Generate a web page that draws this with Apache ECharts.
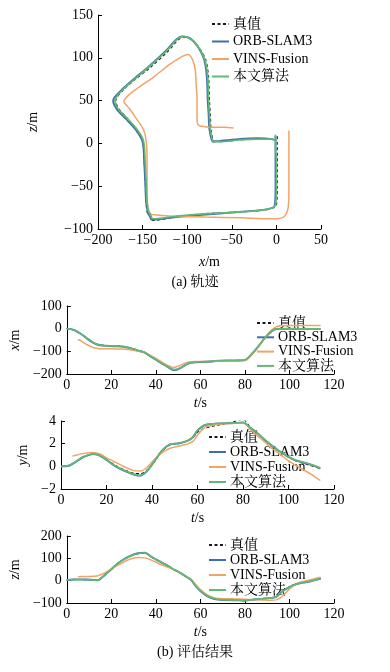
<!DOCTYPE html>
<html><head><meta charset="utf-8">
<script src="https://cdn.jsdelivr.net/npm/echarts@6/dist/echarts.min.js"></script>
<style>html,body{margin:0;padding:0;background:#fff}#c{width:390px;height:672px}</style>
</head><body><div id="c"></div>
<script>
// ---- data ----
const seriesNames = ['真值', 'ORB-SLAM3', 'VINS-Fusion', '本文算法'];
// time stamps (s)
const T  = [0,3,6,9,12,14,16,18,20,23,26,29,32,35,38,41,44,46,48,50,52,54,56,58,60,63,66,68,72,76,80,83,86,89,92,94,96,98,100,103,106,110,114];
const TV = [5,7,9,12,14,16,18,20,23,26,29,32,35,38,41,44,46,48,50,52,54,56,58,60,63,66,68,72,76,80,83,86,89,92,94,96,98,100,103,106,110,114];
// ground truth
const truthX = [0,-5,-20,-42,-62,-70,-73,-74,-75,-76,-79,-86,-95,-104,-123,-141,-159,-171,-180,-177,-167,-157,-150,-148,-147,-146,-145,-143,-141,-140,-139,-113,-79,-40,-9,0,1,1,1,1,1,1,1];
const truthY = [0,0.05,0.35,0.75,1.0,1.08,1.05,0.85,0.6,0.2,-0.15,-0.4,-0.6,-0.65,-0.3,0.4,1.25,1.65,1.9,2.0,2.05,2.15,2.3,2.55,3.0,3.35,3.5,3.6,3.75,3.95,4.15,3.5,3.0,2.4,1.9,1.6,1.3,1.05,0.8,0.5,0.3,0.05,-0.2];
const truthZ = [3,5,5,4,2,3,15,33,50,77,97,111,121,124,106,89,74,63,50,41,29,16,3,-25,-45,-68,-80,-84,-86,-87,-90,-86,-82,-80,-77,-72,-52,-38,-27,-14,-7,0,10];
// ORB-SLAM3
const orbX = [0,-5,-21,-43,-63,-71,-75,-76,-77,-78,-81,-88,-97,-106,-125,-143,-161,-173,-183,-179,-168,-157,-150,-148,-147,-146,-144,-142,-141,-141,-139,-113,-79,-41,-11,-2,-1,-1,-1,-1,-1,-1,-1];
const orbY = [0,0.03,0.33,0.73,0.98,1.08,1.03,0.83,0.57,0.12,-0.22,-0.48,-0.72,-0.82,-0.37,0.43,1.27,1.68,1.93,1.99,2.04,2.13,2.28,2.57,3.15,3.62,3.73,3.77,3.79,3.81,3.86,3.43,2.98,2.43,1.93,1.63,1.33,1.08,0.83,0.53,0.36,0.13,-0.17];
const orbZ = [3,5,6,5,3,2,16,34,51,78,98,113,123,125,107,90,74,63,50,40,28,15,2,-26,-46,-69,-81,-85,-87,-88,-89,-86,-83,-80,-77,-73,-54,-40,-29,-16,-9,-2,9];
// VINS-Fusion
const vinsX = [-48,-58,-70,-84,-88,-89,-89,-89,-90,-91,-94,-99,-105,-120,-137,-155,-164,-171,-165,-157,-149,-146,-145,-145,-145,-144,-143,-142,-141,-140,-116,-80,-40,-5,8,13,14,14,14,14,14,14];
const vinsY = [0.9,1.0,1.1,1.2,1.22,1.15,1.0,0.75,0.45,0.15,-0.15,-0.38,-0.42,-0.05,0.6,1.15,1.4,1.6,1.7,1.8,1.88,2.0,2.2,2.75,3.4,3.6,3.7,3.75,3.8,3.85,3.3,2.75,2.25,1.7,1.4,1.1,0.8,0.5,0.1,-0.25,-0.7,-1.25];
const vinsZ = [18,19,19,20,22,30,40,52,70,86,98,104,102,92,78,65,58,49,41,29,16,3,-18,-40,-63,-76,-80,-81,-82,-83,-85,-86,-87,-88,-86,-76,-58,-38,-15,-4,5,15];
// proposed method
const oursX = [0,-5,-20,-42,-62,-70,-74,-75,-76,-77,-80,-87,-96,-105,-124,-142,-160,-172,-181,-178,-167,-156,-149,-147,-146,-145,-143,-141,-140,-140,-138,-112,-78,-40,-10,-1,0,0,0,0,-1,-1,-1];
const oursY = [0,0.05,0.35,0.75,1.0,1.1,1.05,0.85,0.6,0.15,-0.2,-0.45,-0.7,-0.8,-0.35,0.45,1.3,1.7,1.95,2.0,2.05,2.15,2.3,2.6,3.2,3.65,3.75,3.78,3.8,3.82,3.88,3.45,3.0,2.45,1.95,1.65,1.35,1.1,0.85,0.55,0.38,0.15,-0.15];
const oursZ = [3,5,5,4,2,2,16,34,51,78,97,112,122,125,107,90,74,63,50,41,29,16,3,-25,-45,-68,-80,-84,-86,-87,-88,-85,-82,-80,-77,-72,-53,-39,-28,-15,-8,-1,10];

// ---- styles ----
const FONT = "'Liberation Serif','Times New Roman','Noto Serif CJK SC','Noto Sans CJK SC',serif";
const colors = {'真值':'#1a1a1a','ORB-SLAM3':'#3f6fae','VINS-Fusion':'#f2a466','本文算法':'#62b874'};
const lineStyles = {
  '真值': {color: colors['真值'], width: 1.1, type: [3, 2.5]},
  'ORB-SLAM3': {color: colors['ORB-SLAM3'], width: 1.9},
  'VINS-Fusion': {color: colors['VINS-Fusion'], width: 1.5},
  '本文算法': {color: colors['本文算法'], width: 1.7}
};
const pairs = (a, b) => a.map((v, i) => [v, b[i]]);
const minusFmt = v => String(v).replace('-', '−');

function axis(gridIndex, min, max, interval, name, nameGap, isY) {
  return {
    type: 'value', gridIndex, min, max, interval,
    axisLine: {show: true, onZero: false, lineStyle: {color: '#000', width: 1}},
    axisTick: {show: true, inside: true, length: 4, lineStyle: {color: '#000', width: 1}},
    axisLabel: {color: '#000', fontFamily: FONT, fontSize: 14, margin: isY ? 5 : 4, formatter: minusFmt},
    splitLine: {show: false},
    name: '{i|' + name[0] + '}' + name.slice(1),
    nameLocation: 'middle', nameGap,
    nameTextStyle: {color: '#000', fontFamily: FONT, fontSize: 14,
      rich: {i: {fontStyle: 'italic', fontFamily: FONT, fontSize: 14, color: '#000'}}}
  };
}

const grids = [
  {left: 98, top: 15, width: 223, height: 214},
  {left: 61, top: 306, width: 273, height: 68},
  {left: 61, top: 421, width: 273, height: 68},
  {left: 61, top: 536, width: 273, height: 67}
];
const xAxes = [
  axis(0, -200, 50, 50, 'x/m', 26, false),
  axis(1, 0, 120, 20, 't/s', 22, false),
  axis(2, 0, 120, 20, 't/s', 22, false),
  axis(3, 0, 120, 20, 't/s', 22, false)
];
const yAxes = [
  axis(0, -100, 150, 50, 'z/m', 58, true),
  axis(1, -200, 100, 100, 'x/m', 29, true),
  axis(2, -2, 4, 2, 'y/m', 29, true),
  axis(3, -100, 200, 100, 'z/m', 29, true)
];

const dataSets = {
  '真值': {t: T, x: truthX, y: truthY, z: truthZ},
  'ORB-SLAM3': {t: T, x: orbX, y: orbY, z: orbZ},
  'VINS-Fusion': {t: TV, x: vinsX, y: vinsY, z: vinsZ},
  '本文算法': {t: T, x: oursX, y: oursY, z: oursZ}
};
const series = [];
seriesNames.forEach(n => {
  const d = dataSets[n];
  const plots = [pairs(d.x, d.z), pairs(d.t, d.x), pairs(d.t, d.y), pairs(d.t, d.z)];
  plots.forEach((data, g) => {
    series.push({
      type: 'line', name: n, xAxisIndex: g, yAxisIndex: g, data,
      symbol: 'none', smooth: 0.3, lineStyle: lineStyles[n], itemStyle: {color: colors[n]},
      animation: false, z: seriesNames.indexOf(n) + 2
    });
  });
});

function legend(left, top, itemGap) {
  return {
    data: seriesNames, orient: 'vertical', left, top, itemGap,
    itemWidth: 17, itemHeight: 12, selectedMode: false, padding: 0,
    itemStyle: {opacity: 0},
    textStyle: {fontFamily: FONT, fontSize: 14, color: '#000', lineHeight: 14, padding: [0, 0, 0, -1]}
  };
}

const chart = echarts.init(document.getElementById('c'), null, {renderer: 'canvas'});
chart.setOption({
  backgroundColor: '#fff',
  animation: false,
  grid: grids,
  xAxis: xAxes,
  yAxis: yAxes,
  legend: [legend(211, 17, 3.5), legend(256, 316, 0.3), legend(208, 430, 1), legend(208, 538, 1)],
  series,
  graphic: [
    {type: 'text', left: 'center', top: 275, style: {text: '(a) 轨迹', font: "14px " + FONT, fill: '#000'}, x: 12},
    {type: 'text', left: 'center', top: 645, style: {text: '(b) 评估结果', font: "14px " + FONT, fill: '#000'}}
  ]
});
</script></body></html>
